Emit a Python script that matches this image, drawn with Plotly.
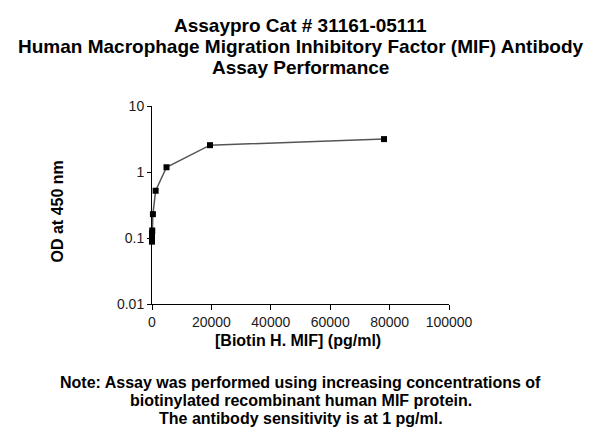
import plotly.graph_objects as go

# Data: biotinylated MIF standard curve
conc = [78125, 19531, 4883, 1221, 305, 76, 19, 4.8, 1.2, 0]
od = [3.15, 2.55, 1.18, 0.52, 0.23, 0.13, 0.12, 0.11, 0.1, 0.088]

x_ticks = [0, 20000, 40000, 60000, 80000, 100000]
y_ticks = [0.01, 0.1, 1, 10]
y_labels = ['0.01', '0.1', '1', '10']

title_lines = ['Assaypro Cat # 31161-05111',
               'Human Macrophage Migration Inhibitory Factor (MIF) Antibody',
               'Assay Performance']
note_lines = ['Note: Assay was performed using increasing concentrations of',
              'biotinylated recombinant human MIF protein.',
              'The antibody sensitivity is at 1 pg/ml.']

fig = go.Figure()
fig.add_trace(go.Scatter(
    x=conc, y=od, mode='lines+markers',
    line=dict(color='#555555', width=1.5),
    marker=dict(symbol='square', size=6, color='black'),
    cliponaxis=False, showlegend=False
))

fig.update_layout(
    width=600, height=443,
    paper_bgcolor='white', plot_bgcolor='white',
    margin=dict(l=144, r=159, t=98, b=147),
    font=dict(family='Liberation Sans, Arial, sans-serif', color='black', size=14),
    xaxis=dict(range=[0, 100000], tickvals=x_ticks, ticktext=[str(v) for v in x_ticks],
               showline=True, linecolor='black', linewidth=1, ticks='outside',
               ticklen=5, tickcolor='black', showgrid=False, zeroline=False,
               tickfont=dict(size=14, color='#1a1a1a')),
    yaxis=dict(type='log', range=[-2, 1], tickvals=y_ticks, ticktext=y_labels,
               showline=True, linecolor='black', linewidth=1, ticks='outside',
               ticklen=4, tickcolor='black', showgrid=False, zeroline=False,
               tickfont=dict(size=14, color='#1a1a1a')),
)

# axis titles
fig.add_annotation(text='<b>[Biotin H. MIF] (pg/ml)</b>', x=0.4916, y=-0.184,
                   xref='paper', yref='paper', showarrow=False, font=dict(size=16),
                   xanchor='center', yanchor='middle')
fig.add_annotation(text='<b>OD at 450 nm</b>', x=-0.318, y=0.465, textangle=-90,
                   xref='paper', yref='paper', showarrow=False, font=dict(size=16),
                   xanchor='center', yanchor='middle')

# title and note, one line each
for line, y in zip(title_lines, [1.409, 1.298, 1.192]):
    fig.add_annotation(text='<b>' + line + '</b>', x=0.5, y=y, xref='paper', yref='paper',
                       showarrow=False, font=dict(size=19), xanchor='center', yanchor='middle')
for line, y in zip(note_lines, [-0.396, -0.487, -0.576]):
    fig.add_annotation(text='<b>' + line + '</b>', x=0.5, y=y, xref='paper', yref='paper',
                       showarrow=False, font=dict(size=16), xanchor='center', yanchor='middle')

fig.write_html('out.html')
